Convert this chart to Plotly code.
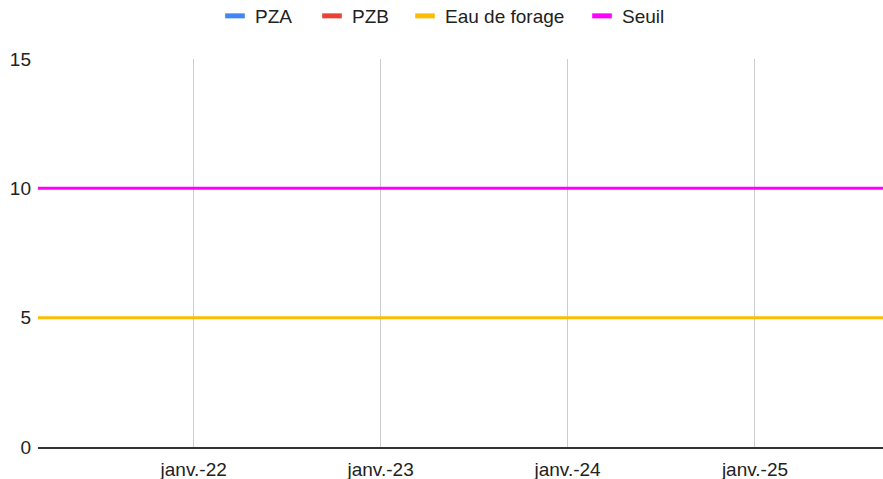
import plotly.graph_objects as go

# Data
dates = ["2021-03-03", "2025-09-08"]
pza = [None, None]
pzb = [None, None]
eau_de_forage = [5, 5]
seuil = [10, 10]

tick_dates = ["2022-01-01", "2023-01-01", "2024-01-01", "2025-01-01"]
tick_labels = ["janv.-22", "janv.-23", "janv.-24", "janv.-25"]
y_ticks = [0, 5, 10, 15]

series = [
    ("PZA", pza, "#4285F4"),
    ("PZB", pzb, "#EA4335"),
    ("Eau de forage", eau_de_forage, "#FBBC04"),
    ("Seuil", seuil, "#FF00FF"),
]

FONT = "Liberation Sans, Arial, sans-serif"
FIG_W, FIG_H = 883, 479
# left edge (in figure px) of each legend entry's symbol
legend_symbol_x = [225, 322, 415, 592]
SYMBOL_OFFSET = 10

fig = go.Figure()
for name, vals, color in series:
    fig.add_trace(go.Scatter(
        x=dates, y=vals, name=name, mode="lines",
        line=dict(color=color, width=3), showlegend=False,
    ))

legend_layout = {}
for i, (name, vals, color) in enumerate(series):
    key = "legend" if i == 0 else f"legend{i + 1}"
    fig.add_trace(go.Scatter(
        x=[None], y=[None], name=name, mode="markers",
        marker=dict(symbol="line-ew", size=14, color=color,
                    line=dict(color=color, width=6)),
        showlegend=True, legend=key,
    ))
    legend_layout[key] = dict(
        orientation="h", xref="container", yref="container",
        x=(legend_symbol_x[i] - SYMBOL_OFFSET) / FIG_W, xanchor="left",
        y=1 - 16 / FIG_H, yanchor="middle",
        font=dict(family=FONT, size=19, color="#222222"),
        itemwidth=30, bgcolor="rgba(0,0,0,0)",
    )

fig.update_layout(
    width=FIG_W, height=FIG_H,
    margin=dict(l=38, r=0, t=59, b=32),
    paper_bgcolor="white", plot_bgcolor="white",
    font=dict(family=FONT, size=19, color="#222222"),
    showlegend=True,
    **legend_layout,
)
fig.update_xaxes(
    type="date", range=[dates[0], dates[1]],
    tickvals=tick_dates, ticktext=tick_labels,
    showgrid=True, gridcolor="#cccccc", gridwidth=1,
    showline=True, linecolor="#333333", linewidth=1.5,
    ticks="", ticklabelstandoff=4,
    tickfont=dict(family=FONT, size=19, color="#222222"),
    zeroline=False,
)
fig.update_yaxes(
    range=[0, 15], tickvals=y_ticks,
    showgrid=True, gridcolor="#cccccc", gridwidth=1,
    zeroline=False, showline=False, ticks="", ticklabelstandoff=6,
    tickfont=dict(family=FONT, size=19, color="#222222"),
)

fig.write_html(
    "out.html",
    config={"displayModeBar": False},
    post_script="document.body.style.margin='0';document.body.style.overflow='hidden';",
)
